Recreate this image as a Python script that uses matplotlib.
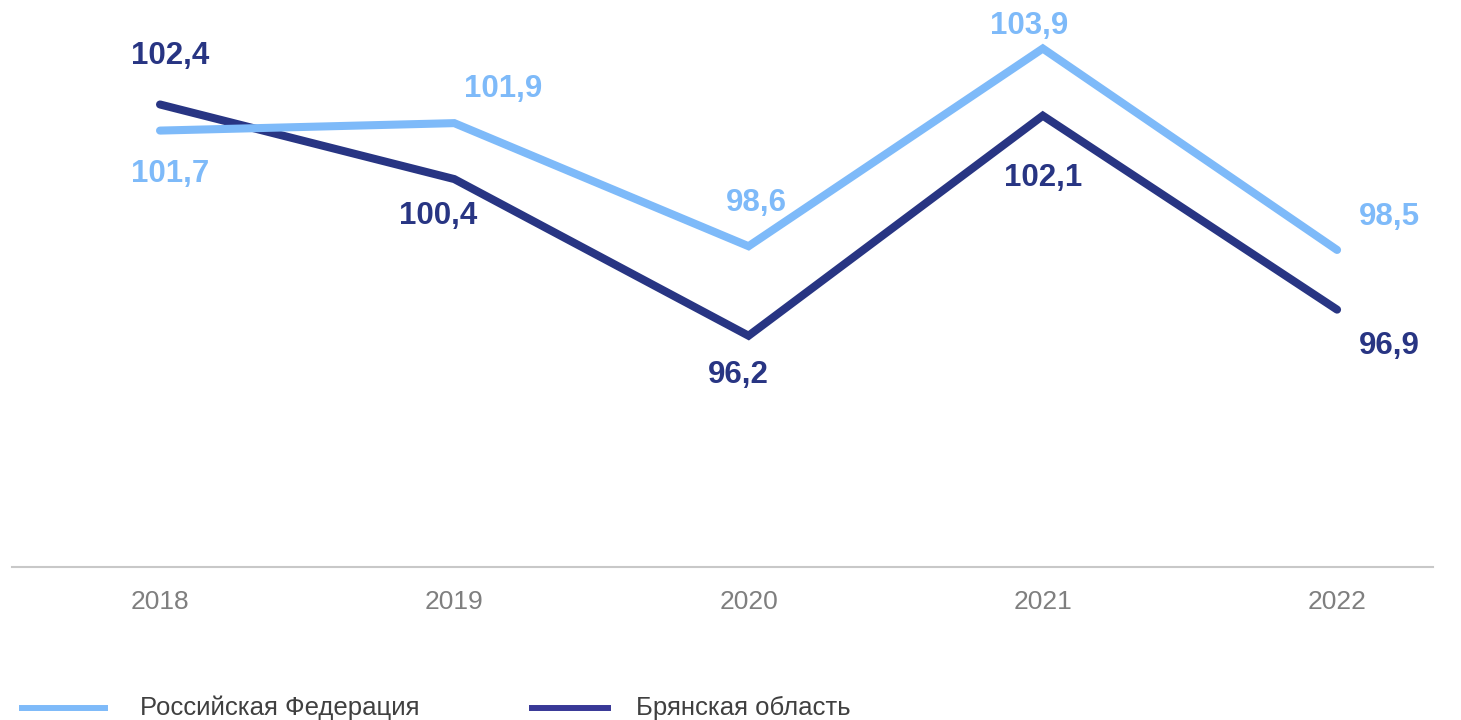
import matplotlib
matplotlib.use("Agg")
import matplotlib.pyplot as plt
from matplotlib.lines import Line2D

plt.rcParams['font.family'] = ['Liberation Sans', 'DejaVu Sans']

years = ["2018", "2019", "2020", "2021", "2022"]
rf_values = [101.7, 101.9, 98.6, 103.9, 98.5]
br_values = [102.4, 100.4, 96.2, 102.1, 96.9]
rf_label = "Российская Федерация"
br_label = "Брянская область"

rf_color = "#7EBAF9"
br_color = "#283583"
br_legend_color = "#383897"

# label offsets in pixels (dx, dy) relative to the point
rf_offsets = [(10, -43), (49, 34), (8, 43), (-14, 23), (52, 33)]
br_offsets = [(10, 48), (-16, -37), (-10, -39), (0, -62), (52, -36)]

W, H = 1461, 720
fig = plt.figure(figsize=(W / 100, H / 100), dpi=100)
ax = fig.add_axes([12 / W, (H - 567) / H, (1433 - 12) / W, (567 - 7.5) / H])

x = list(range(len(years)))
ax.plot(x, rf_values, color=rf_color, lw=5.8, solid_capstyle='round', solid_joinstyle='miter', zorder=3)
ax.plot(x, br_values, color=br_color, lw=5.8, solid_capstyle='round', solid_joinstyle='miter', zorder=2)

ax.set_xlim(-0.503, 4.326)
ax.set_ylim(90, 105)

for xi, v, off in zip(x, rf_values, rf_offsets):
    ax.annotate(f"{v:.1f}".replace(".", ","), (xi, v), xytext=off, textcoords='offset pixels',
                ha='center', va='center', fontsize=22.5, fontweight='bold', color=rf_color)
for xi, v, off in zip(x, br_values, br_offsets):
    ax.annotate(f"{v:.1f}".replace(".", ","), (xi, v), xytext=off, textcoords='offset pixels',
                ha='center', va='center', fontsize=22.5, fontweight='bold', color=br_color)

for s in ['top', 'right', 'left']:
    ax.spines[s].set_visible(False)
ax.spines['bottom'].set_color('#C8C8C8')
ax.spines['bottom'].set_linewidth(1.5)
ax.set_yticks([])
ax.set_xticks(x)
ax.set_xticklabels(years, fontsize=19, color='#7F7F7F')
ax.tick_params(axis='x', length=0, pad=16.5)

# legend drawn in figure pixel coordinates
ly = (H - 708) / H
legend_items = [(rf_label, rf_color, 22, 105, 140), (br_label, br_legend_color, 532, 608, 636)]
for label, col, x0, x1, tx in legend_items:
    fig.add_artist(Line2D([x0 / W, x1 / W], [ly, ly], transform=fig.transFigure, color=col, lw=4.3))
    fig.text(tx / W, ly, label, ha='left', va='center', fontsize=18.5, color='#404040')

fig.savefig("out.png", dpi=100)
